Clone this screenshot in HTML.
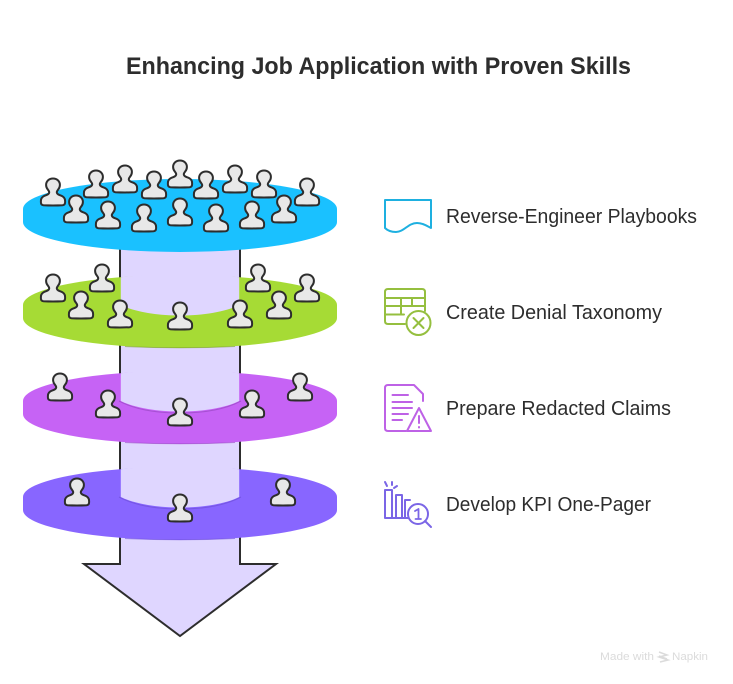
<!DOCTYPE html>
<html><head><meta charset="utf-8"><style>
html,body{margin:0;padding:0;background:#fff;width:733px;height:684px;overflow:hidden}
svg{display:block}
text{font-family:"Liberation Sans",sans-serif;fill:#2d2d2d}
</style></head><body>
<svg width="733" height="684" viewBox="0 0 733 684" xmlns="http://www.w3.org/2000/svg">
<defs>
<path id="p" d="M-9.500,-0.800Q0,-0.300 9.500,-0.800Q12.100,-1 12.100,-3.800V-5C12.100,-7.800 10.500,-9.500 8,-10.400C5.500,-11.300 4,-11.800 3.800,-13.500C3.700,-14.500 4.200,-15.200 5,-16.200C6.300,-17.700 6.900,-19.200 6.900,-21C6.900,-25 3.800,-27.500 0,-27.500C-3.800,-27.500 -6.900,-25 -6.900,-21C-6.900,-19.200 -6.300,-17.700 -5,-16.200C-4.200,-15.200 -3.700,-14.500 -3.800,-13.500C-4,-11.800 -5.500,-11.300 -8,-10.400C-10.500,-9.500 -12.100,-7.800 -12.100,-5V-3.800Q-12.100,-1 -9.500,-0.800Z" fill="#e8e8e8" stroke="#2d2d2d" stroke-width="2" stroke-linejoin="round"/>
</defs>

<text x="378.500" y="74" font-size="24" font-weight="700" text-anchor="middle" textLength="505" lengthAdjust="spacingAndGlyphs">Enhancing Job Application with Proven Skills</text>

<!-- arrow -->
<path d="M120,240V564H84L180,636L276,564H240V240Z" fill="#dfd6ff" stroke="#2d2d2d" stroke-width="2" stroke-linejoin="miter"/>

<!-- violet disk -->
<path d="M23,497A157,30 0 0 1 337,497V510A157,30 0 0 1 23,510Z" fill="#8866ff"/>
<path d="M120.800,469.300Q180,462 239.200,469.300V497C225,504 203,507.500 180,507.500S135,504 120.800,497Z" fill="#dfd6ff"/>
<path d="M119,497C135,505.500 157,509 180,509S225,505.500 241,497" fill="none" stroke="#6f50d8" stroke-width="1" opacity=".7"/>
<path d="M125,538.500Q180,541 235,538.500" fill="none" stroke="#6f50d8" stroke-width="1" opacity=".6"/>

<!-- purple disk -->
<path d="M23,401A157,30 0 0 1 337,401V414A157,30 0 0 1 23,414Z" fill="#c663f5"/>
<path d="M120.800,373.300Q180,366 239.200,373.300V401C225,408 203,411.500 180,411.500S135,408 120.800,401Z" fill="#dfd6ff"/>
<path d="M119,401C135,409.500 157,413 180,413S225,409.500 241,401" fill="none" stroke="#9a48c4" stroke-width="1" opacity=".7"/>
<path d="M125,442.500Q180,445 235,442.500" fill="none" stroke="#9a48c4" stroke-width="1" opacity=".6"/>

<!-- green disk -->
<path d="M23,305A157,30 0 0 1 337,305V318A157,30 0 0 1 23,318Z" fill="#a6db35"/>
<path d="M120.800,277.300Q180,270 239.200,277.300V305C225,312 203,315.500 180,315.500S135,312 120.800,305Z" fill="#dfd6ff"/>
<path d="M125,346.500Q180,349 235,346.500" fill="none" stroke="#7a9e28" stroke-width="1" opacity=".6"/>

<!-- blue disk -->
<path d="M23,209A157,30 0 0 1 337,209V222A157,30 0 0 1 23,222Z" fill="#1ac1ff"/>

<!-- people -->
<use href="#p" x="53" y="206"/><use href="#p" x="96" y="198"/><use href="#p" x="125" y="193"/><use href="#p" x="154" y="199"/><use href="#p" x="180" y="188"/><use href="#p" x="206" y="199"/><use href="#p" x="235" y="193"/><use href="#p" x="264" y="198"/><use href="#p" x="307" y="206"/>
<use href="#p" x="76" y="223"/><use href="#p" x="108" y="229"/><use href="#p" x="144" y="232"/><use href="#p" x="180" y="226"/><use href="#p" x="216" y="232"/><use href="#p" x="252" y="229"/><use href="#p" x="284" y="223"/>

<use href="#p" x="53" y="302"/><use href="#p" x="102" y="292"/><use href="#p" x="258" y="292"/><use href="#p" x="307" y="302"/><use href="#p" x="81" y="319"/><use href="#p" x="120" y="328"/><use href="#p" x="180" y="330"/><use href="#p" x="240" y="328"/><use href="#p" x="279" y="319"/>

<use href="#p" x="60" y="401"/><use href="#p" x="108" y="418"/><use href="#p" x="180" y="426"/><use href="#p" x="252" y="418"/><use href="#p" x="300" y="401"/>

<use href="#p" x="77" y="506"/><use href="#p" x="180" y="522"/><use href="#p" x="283" y="506"/>

<!-- labels -->
<text x="446" y="223" font-size="20" textLength="251" lengthAdjust="spacingAndGlyphs">Reverse-Engineer Playbooks</text>
<text x="446" y="319" font-size="20" textLength="216" lengthAdjust="spacingAndGlyphs">Create Denial Taxonomy</text>
<text x="446" y="415" font-size="20" textLength="225" lengthAdjust="spacingAndGlyphs">Prepare Redacted Claims</text>
<text x="446" y="511" font-size="20" textLength="205" lengthAdjust="spacingAndGlyphs">Develop KPI One-Pager</text>

<!-- icon 1 -->
<path d="M385,228V200H431V228C427,226 423,223 417,223C408,223 404,232 396,232C392,232 388,231 385,228Z" fill="none" stroke="#1eb0e0" stroke-width="2" stroke-linejoin="round"/>

<!-- icon 2 -->
<g fill="none" stroke="#95bf3f" stroke-width="2" stroke-linecap="round" stroke-linejoin="round">
<path d="M405,324H388Q385,324 385,321V292Q385,289 388,289H422Q425,289 425,292V311"/>
<path d="M385,298H425M385,306H425M385,314.500H404M401,298V314.500M412,298V306"/>
<circle cx="418.500" cy="323" r="12"/>
<path d="M413.500,318L423.500,328M423.500,318L413.500,328"/>
</g>

<!-- icon 3 -->
<g fill="none" stroke="#be62e6" stroke-width="2" stroke-linecap="round" stroke-linejoin="round">
<path d="M406,431H388Q385,431 385,428V388Q385,385 388,385H414L423,394V401"/>
<path d="M392.500,395H408M392.500,402H412M392.500,408H412M392.500,414H408M392.500,420H402"/>
<path d="M419,408L431,431H407Z"/>
<path d="M419,416V423M419,427V427.500"/>
</g>

<!-- icon 4 -->
<g fill="none" stroke="#7b66e6" stroke-width="2" stroke-linecap="round" stroke-linejoin="round">
<path d="M385,518V490H392V518M385,518H408M396,518V495H402V518M405,518V500H410"/>
<path d="M385,482L387,486M392,482V485M397,486L394,488"/>
<circle cx="418" cy="514" r="10"/>
<path d="M425,521L431,527"/>
<path d="M415,511L418.500,509V519M415.500,519H421" stroke-width="1.800"/>
</g>

<!-- watermark -->
<g opacity=".75">
<text x="600" y="660" font-size="11" style="fill:#cfcfcf" textLength="54" lengthAdjust="spacingAndGlyphs">Made with</text>
<path d="M659,652L667,655L659,657L668,660L660,662M659,656L667,659" fill="none" stroke="#cfcfcf" stroke-width="1.500"/>
<text x="672" y="660" font-size="11" style="fill:#cfcfcf" textLength="36" lengthAdjust="spacingAndGlyphs">Napkin</text>
</g>
</svg>
</body></html>
